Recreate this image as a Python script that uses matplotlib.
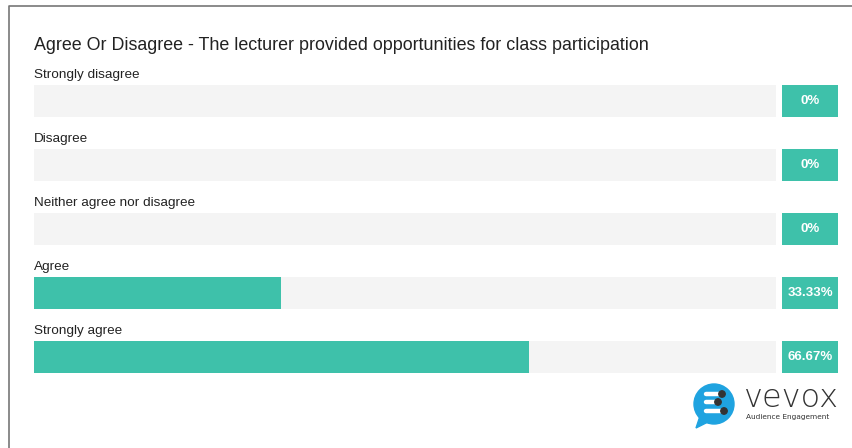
import matplotlib.pyplot as plt
from matplotlib.patches import Circle, Polygon
import numpy as np

# survey data
categories = ["Strongly disagree", "Disagree", "Neither agree nor disagree",
              "Agree", "Strongly agree"]
percentages = [0, 0, 0, 33.33, 66.67]
value_labels = ["0%", "0%", "0%", "33.33%", "66.67%"]
title = "Agree Or Disagree - The lecturer provided opportunities for class participation"

teal = "#3ec1aa"
track = "#f4f4f4"
text_col = "#222222"

W, H = 853, 448
fig = plt.figure(figsize=(W / 100, H / 100), dpi=100)
fig.patch.set_facecolor("white")

# outer frame (left and top edges visible)
frame = fig.add_axes([0, 0, 1, 1])
frame.set_xlim(0, W)
frame.set_ylim(H, 0)
frame.axis("off")
frame.plot([9, 9, W + 5], [H + 5, 6, 6], color="#777777", lw=1.2)

fig.text(34 / W, 1 - 45 / H, title, fontsize=12.9, color=text_col,
         va="center", ha="left", family="Liberation Sans")

# main bar axes: spans x from 34 to 838 px, y from 60 to 380 px
x0, x1 = 34, 838
scale = (776 - 34) / 100.0
ax = fig.add_axes([x0 / W, 1 - 380 / H, (x1 - x0) / W, 320 / H])
ax.set_xlim(0, (x1 - x0) / scale)
top = (60 - 101) / 64.0
ax.set_ylim(top + 320 / 64.0, top)
ax.axis("off")

y = np.arange(len(categories))
ax.barh(y, [100] * len(y), height=0.5, color=track, left=0)
ax.barh(y, percentages, height=0.5, color=teal, left=0)
box_left = (782 - 34) / scale
box_w = (838 - 782) / scale
ax.barh(y, [box_w] * len(y), height=0.5, left=box_left, color=teal)

for i, (cat, lab) in enumerate(zip(categories, value_labels)):
    ax.text(0, i - 0.40, cat, fontsize=9.7, color=text_col, va="center",
            ha="left", family="Liberation Sans")
    ax.text(box_left + box_w / 2, i, lab, fontsize=9.5, color="white",
            fontweight="bold", va="center", ha="center", family="Liberation Sans")

# vevox logo
frame.add_patch(Circle((714, 404), 20, color="#1fa3e0", zorder=3))
frame.add_patch(Polygon([[700, 416], [696, 428], [710, 421]], color="#1fa3e0", zorder=3))
for yy, xe in [(394, 722), (402, 718), (411, 724)]:
    frame.plot([706, xe], [yy, yy], color="white", lw=3.2, solid_capstyle="round", zorder=4)
    frame.add_patch(Circle((xe, yy), 3.2, color="#333333", zorder=5))
frame.text(744, 398, "vevox", fontsize=23, color="#333333", va="center", ha="left",
           family="DejaVu Sans", fontweight="light")
frame.text(746, 417, "Audience Engagement", fontsize=5.3, color="#333333",
           va="center", ha="left")

fig.savefig("out.png", dpi=100, facecolor="white")
